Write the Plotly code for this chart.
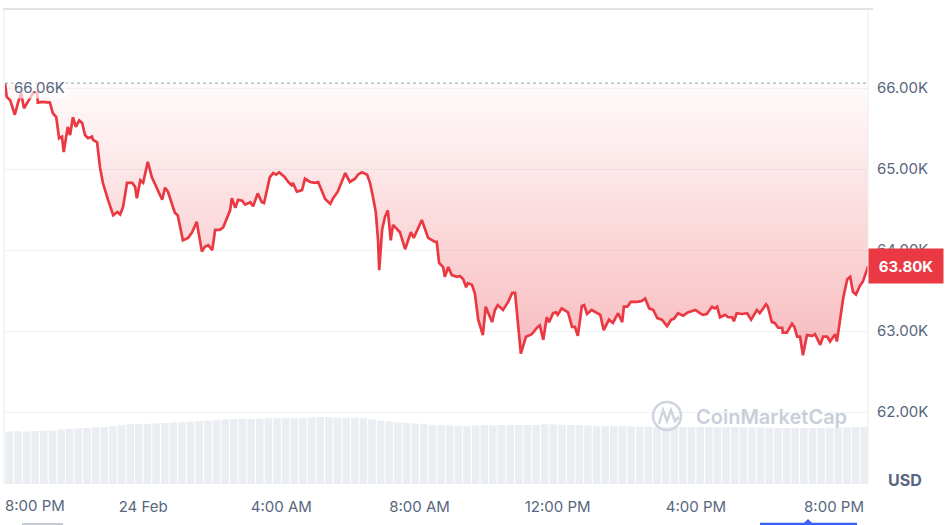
import datetime as dt
import plotly.graph_objects as go

# ---------------- data ----------------
START = dt.datetime(2024, 2, 23, 20, 0)

price_minutes = [
    0, 3, 9, 17, 23, 28, 33, 40, 49, 56,
    57, 64, 73, 78, 83, 89, 94, 99, 102, 109,
    113, 118, 123, 129, 134, 139, 144, 151, 153, 160,
    165, 170, 179, 188, 195, 200, 205, 212, 221, 226,
    229, 235, 240, 248, 255, 264, 273, 278, 283, 295,
    300, 309, 318, 325, 333, 342, 347, 353, 360, 365,
    373, 379, 386, 391, 394, 400, 405, 412, 417, 426,
    431, 439, 446, 450, 460, 466, 471, 476, 486, 492,
    499, 500, 507, 516, 521, 530, 538, 544, 551, 556,
    565, 570, 578, 591, 599, 608, 613, 620, 629, 634,
    639, 644, 648, 650, 655, 660, 665, 670, 674, 681,
    686, 695, 705, 710, 724, 735, 742, 747, 750, 754,
    761, 764, 770, 776, 785, 790, 796, 801, 804, 811,
    816, 822, 830, 835, 846, 851, 856, 865, 874, 881,
    886, 889, 896, 905, 915, 924, 929, 935, 941, 945,
    952, 957, 960, 967, 973, 978, 985, 990, 995, 1002,
    1006, 1011, 1019, 1028, 1034, 1040, 1049, 1056, 1065, 1072,
    1075, 1081, 1087, 1098, 1106, 1112, 1119, 1126, 1133, 1141,
    1150, 1157, 1162, 1169, 1178, 1186, 1199, 1207, 1212, 1219,
    1228, 1233, 1237, 1242, 1251, 1256, 1263, 1266, 1271, 1280,
    1289, 1296, 1306, 1311, 1322, 1325, 1332, 1337, 1343, 1350,
    1351, 1358, 1367, 1371, 1376, 1381, 1386, 1393, 1402, 1407,
    1416, 1421, 1428, 1433, 1442, 1445, 1450, 1456, 1463, 1468,
    1473, 1478, 1485, 1490, 1497, 1499,
]

price_usd = [
    66060, 65890, 65850, 65670, 65830, 65940, 65750, 65830, 65940, 65950,
    65820, 65830, 65820, 65820, 65690, 65640, 65380, 65400, 65210, 65520,
    65420, 65640, 65520, 65600, 65570, 65420, 65380, 65400, 65360, 65330,
    65020, 64830, 64620, 64430, 64470, 64440, 64530, 64830, 64830, 64780,
    64640, 64860, 64830, 65090, 64900, 64770, 64620, 64770, 64720, 64460,
    64430, 64120, 64150, 64220, 64350, 63980, 64040, 64060, 64000, 64250,
    64250, 64280, 64390, 64490, 64640, 64520, 64620, 64610, 64560, 64590,
    64540, 64700, 64590, 64580, 64900, 64950, 64930, 64960, 64900, 64840,
    64790, 64830, 64720, 64740, 64880, 64840, 64830, 64840, 64720, 64630,
    64570, 64640, 64720, 64950, 64840, 64880, 64930, 64960, 64930, 64830,
    64660, 64470, 64120, 63750, 64250, 64410, 64490, 64120, 64310, 64250,
    64220, 64010, 64220, 64150, 64370, 64150, 64120, 64100, 64100, 63840,
    63790, 63670, 63790, 63690, 63670, 63680, 63640, 63540, 63590, 63570,
    63470, 63140, 62950, 63300, 63110, 63260, 63320, 63260, 63360, 63470,
    63470, 63220, 62720, 62930, 62960, 63040, 63070, 62890, 63170, 63110,
    63220, 63230, 63200, 63280, 63250, 63230, 63050, 63050, 62940, 63310,
    63320, 63210, 63260, 63220, 63200, 63010, 63140, 63100, 63220, 63110,
    63300, 63300, 63360, 63360, 63370, 63400, 63280, 63260, 63160, 63140,
    63060, 63140, 63150, 63220, 63190, 63230, 63260, 63220, 63200, 63210,
    63300, 63280, 63300, 63170, 63200, 63170, 63170, 63120, 63220, 63210,
    63220, 63140, 63260, 63220, 63330, 63300, 63110, 63100, 63040, 63040,
    62980, 62980, 63090, 63050, 62930, 62930, 62700, 62950, 62940, 62960,
    62830, 62930, 62930, 62870, 62960, 62870, 63140, 63410, 63640, 63670,
    63480, 63450, 63560, 63610, 63750, 63800,
]

# volume, one bar per 15 minutes (arbitrary units)
volume_15min = [
    525, 528, 523, 530, 532, 535, 545, 552, 556, 560,
    566, 572, 579, 590, 597, 600, 602, 605, 610, 615,
    618, 622, 628, 633, 640, 645, 650, 652, 650, 655,
    656, 658, 660, 658, 662, 665, 670, 668, 664, 662,
    663, 660, 645, 632, 625, 615, 610, 605, 598, 592,
    588, 585, 582, 580, 585, 588, 586, 590, 588, 590,
    589, 592, 598, 596, 593, 590, 588, 585, 582, 580,
    578, 580, 576, 574, 575, 572, 570, 573, 570, 568,
    571, 569, 566, 568, 570, 567, 565, 566, 563, 562,
    560, 562, 560, 558, 561, 563, 565, 566, 568, 570,
]

open_price = 66060
last_price = 63800
y_tick_values = [62000, 63000, 64000, 65000, 66000]
y_tick_labels = ["62.00K", "63.00K", "64.00K", "65.00K", "66.00K"]
x_tick_minutes = [240, 480, 720, 960, 1200, 1440]
x_tick_labels = ["24 Feb", "4:00 AM", "8:00 AM", "12:00 PM", "4:00 PM", "8:00 PM"]
first_x_label = "8:00 PM"

# ---------------- derived ----------------
times = [START + dt.timedelta(minutes=m) for m in price_minutes]
bar_times = [START + dt.timedelta(minutes=15 * i + 7.5) for i in range(len(volume_15min))]
x_end = START + dt.timedelta(minutes=1499)

GREY = "#58667e"
RED = "#ea3943"
FONT = "Inter, 'Noto Sans', sans-serif"

W, H = 951, 525
L, R, T, B = 5, 83, 9, 41
PW, PH = W - L - R, H - T - B


def px(xp):
    return (xp - L) / PW


def py(yp):
    return (H - B - yp) / PH


fig = go.Figure()

fig.add_trace(go.Bar(
    x=bar_times, y=volume_15min, yaxis="y2",
    marker=dict(color="#eaedf1", line_width=0),
    hoverinfo="skip", showlegend=False,
))

fig.add_trace(go.Scatter(
    x=[times[0], times[-1]], y=[open_price, open_price],
    mode="lines", line=dict(width=0, color="rgba(0,0,0,0)"),
    hoverinfo="skip", showlegend=False,
))

fig.add_trace(go.Scatter(
    x=times, y=price_usd, mode="lines",
    line=dict(color=RED, width=2.7),
    fill="tonexty",
    fillgradient=dict(
        type="vertical",
        colorscale=[[0, "rgba(234,57,67,0.34)"], [1, "rgba(234,57,67,0.02)"]],
        start=62700, stop=open_price,
    ),
    showlegend=False,
))

shapes = [
    # dotted open-price line
    dict(type="line", xref="paper", yref="y", x0=0, x1=1, y0=open_price, y1=open_price,
         line=dict(color="#a6afbf", width=1.2, dash="dot"), layer="above"),
    # frame lines
    dict(type="line", xref="paper", yref="paper", x0=px(3), x1=px(873), y0=1, y1=1,
         line=dict(color="#e2e2e2", width=2)),
    dict(type="line", xref="paper", yref="paper", x0=px(4), x1=px(4), y0=0, y1=1,
         line=dict(color="#ececec", width=1)),
    dict(type="line", xref="paper", yref="paper", x0=1, x1=1, y0=0, y1=1,
         line=dict(color="#ececec", width=1)),
    # watermark logo
    dict(type="circle", xref="paper", yref="paper", x0=px(653), x1=px(681), y0=py(430), y1=py(402),
         line=dict(color="#cfd5de", width=2.5), layer="above"),
    dict(type="path", xref="paper", yref="paper",
         path=f"M {px(659)},{py(424)} L {px(663)},{py(410)} L {px(667)},{py(421)} "
              f"L {px(671)},{py(410)} L {px(675)},{py(421)} L {px(679)},{py(417)}",
         line=dict(color="#cfd5de", width=2.5), layer="above"),
    # bottom UI bits
    dict(type="line", xref="paper", yref="paper", x0=px(22), x1=px(63), y0=py(524), y1=py(524),
         line=dict(color="#c5cad3", width=2)),
    dict(type="line", xref="paper", yref="paper", x0=px(760), x1=px(857), y0=py(524), y1=py(524),
         line=dict(color="#3861fb", width=2.5)),
    dict(type="path", xref="paper", yref="paper",
         path=f"M {px(803)},{py(524)} L {px(808)},{py(519)} L {px(813)},{py(524)} Z",
         fillcolor="#3861fb", line=dict(width=0)),
]

annotations = [
    dict(text="66.06K", xref="paper", yref="y", x=px(12), y=open_price, yshift=-4,
         xanchor="left", yanchor="middle", showarrow=False,
         font=dict(size=15, color=GREY, family=FONT), bgcolor="rgba(255,255,255,0.65)"),
    dict(text="<b>" + f"{last_price/1000:.2f}K" + "</b>", xref="paper", yref="y", x=1, y=last_price,
         xanchor="left", yanchor="middle", showarrow=False, width=72, height=32,
         font=dict(size=15, color="white", family=FONT), bgcolor=RED),
    dict(text="<b>USD</b>", xref="paper", yref="paper", x=px(905), y=py(480),
         xanchor="center", yanchor="middle", showarrow=False,
         font=dict(size=16, color=GREY, family=FONT)),
    dict(text=first_x_label, xref="paper", yref="paper", x=px(35), y=py(505),
         xanchor="center", yanchor="middle", showarrow=False,
         font=dict(size=15, color=GREY, family=FONT)),
    dict(text="CoinMarketCap", xref="paper", yref="paper", x=px(771), y=py(417),
         xanchor="center", yanchor="middle", showarrow=False,
         font=dict(size=20, color="#c9cfd8", family=FONT, weight=600)),
]

fig.update_layout(
    width=W, height=H,
    margin=dict(l=L, r=R, t=T, b=B, pad=0),
    paper_bgcolor="white", plot_bgcolor="white",
    showlegend=False, bargap=0.12,
    font=dict(family=FONT, color=GREY, size=15),
    xaxis=dict(
        range=[START, x_end],
        tickvals=[START + dt.timedelta(minutes=m) for m in x_tick_minutes],
        ticktext=x_tick_labels,
        showgrid=False, zeroline=False, showline=False, ticks="",
        ticklabelstandoff=12,
        tickfont=dict(size=15, color=GREY, family=FONT),
    ),
    yaxis=dict(
        side="right", range=[61111, 66976],
        tickvals=y_tick_values, ticktext=y_tick_labels,
        showgrid=True, gridcolor="#eff2f5", gridwidth=1,
        zeroline=False, showline=False, ticks="",
        ticklabelstandoff=8,
        tickfont=dict(size=15, color=GREY, family=FONT),
    ),
    yaxis2=dict(overlaying="y", range=[0, 4750], visible=False, fixedrange=True),
    shapes=shapes,
    annotations=annotations,
)

fig.write_html("out.html", config={"displayModeBar": False},
               post_script="document.body.style.margin='0';")
